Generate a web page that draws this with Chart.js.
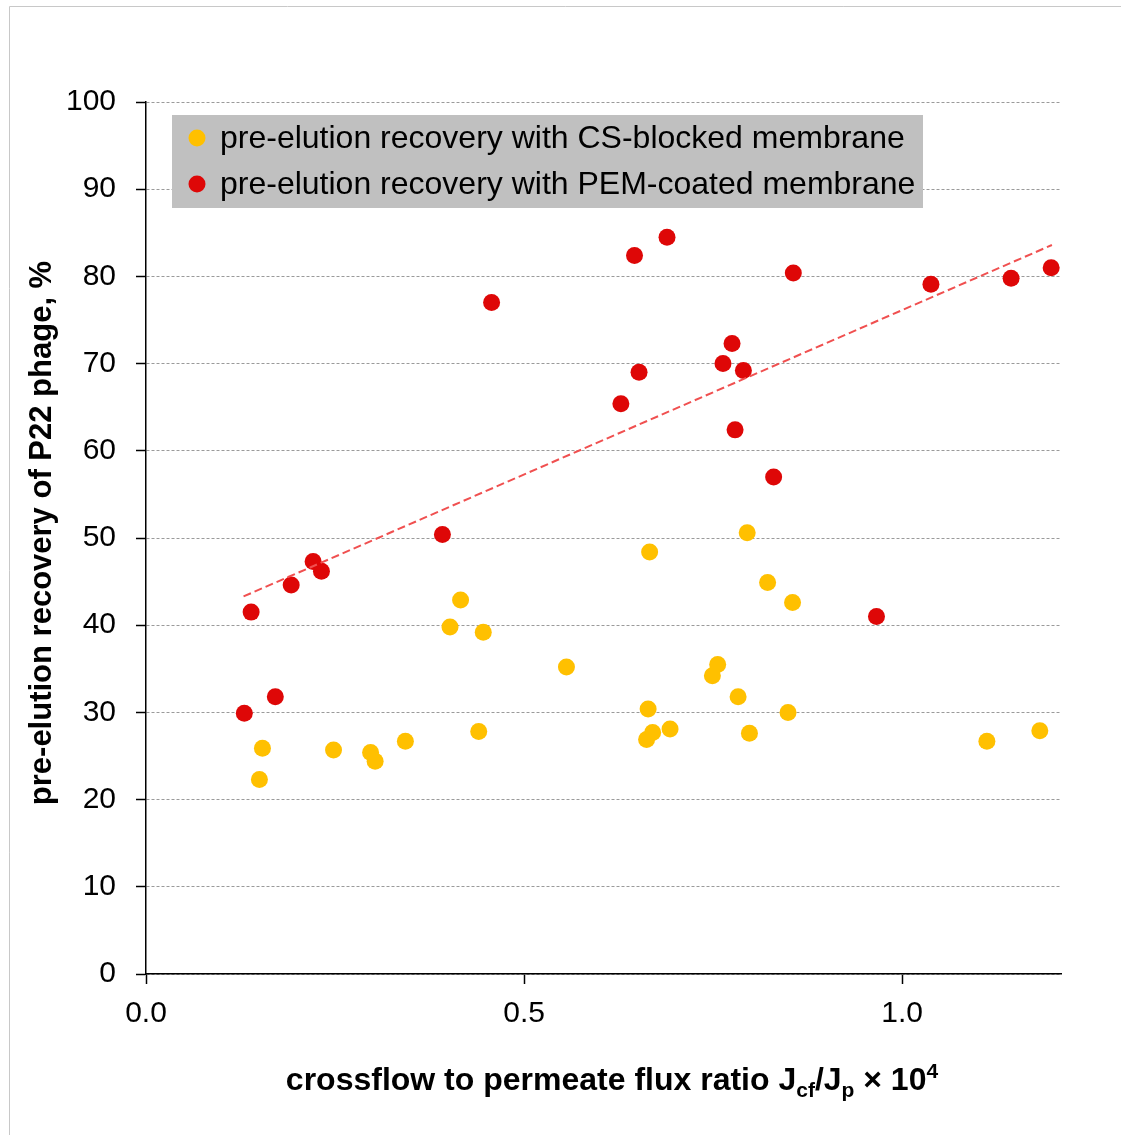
<!DOCTYPE html>
<html>
<head>
<meta charset="utf-8">
<title>Pre-elution recovery of P22 phage</title>
<script src="https://cdn.jsdelivr.net/npm/chart.js@4/dist/chart.umd.min.js"></script>
<style>
  html, body { margin: 0; padding: 0; background: #ffffff; }
  #wrap { position: relative; width: 1121px; height: 1135px; }
</style>
</head>
<body>
<div id="wrap"><canvas id="chart" width="1121" height="1135"></canvas></div>
<script>
// Crossflow to permeate flux ratio (x 10^4) and pre-elution recovery (%)
const csX  = [0.150, 0.154, 0.248, 0.297, 0.303, 0.343, 0.402, 0.416, 0.440, 0.446,
              0.556, 0.662, 0.664, 0.666, 0.670, 0.693, 0.749, 0.756, 0.783, 0.795,
              0.798, 0.822, 0.849, 0.855, 1.112, 1.182];
const csY  = [22.3, 25.9, 25.7, 25.4, 24.4, 26.7, 39.8, 42.9, 27.8, 39.2,
              35.2, 26.9, 30.4, 48.4, 27.7, 28.1, 34.2, 35.5, 31.8, 50.6,
              27.6, 44.9, 30.0, 42.6, 26.7, 27.9];

const pemX = [0.130, 0.139, 0.171, 0.192, 0.221, 0.232, 0.392, 0.457, 0.628, 0.646,
              0.652, 0.689, 0.763, 0.775, 0.779, 0.790, 0.830, 0.856, 0.966, 1.038,
              1.144, 1.197];
const pemY = [29.9, 41.5, 31.8, 44.6, 47.3, 46.2, 50.4, 77.0, 65.4, 82.4,
              69.0, 84.5, 70.0, 72.3, 62.4, 69.2, 57.0, 80.4, 41.0, 79.1,
              79.8, 81.0];

// Linear trend of the PEM-coated series
const trendX = [0.129, 1.198];
const trendY = [43.3, 83.6];

const seriesLabels = [
  'pre-elution recovery with CS-blocked membrane',
  'pre-elution recovery with PEM-coated membrane'
];
const yTitle = 'pre-elution recovery of P22 phage, %';
// x title pieces: normal text, subscripts and the exponent
const xTitleParts = ['crossflow to permeate flux ratio J', 'cf', '/J', 'p', ' \u00d7 10', '4'];
const xTitleKinds = ['n', 'sub', 'n', 'sub', 'n', 'sup'];

const xMin = 0, xMax = 1.21, xStep = 0.5;
const yMin = 0, yMax = 100, yStep = 10;

const FONT = '"Liberation Sans", Arial, sans-serif';
const YELLOW = '#FFC000';
const RED = '#DE0707';

const toPts = (xs, ys) => xs.map((x, i) => ({ x: x, y: ys[i] }));

const decorations = {
  id: 'decorations',
  beforeDraw(chart) {
    const ctx = chart.ctx;
    ctx.save();
    ctx.fillStyle = '#ffffff';
    ctx.fillRect(0, 0, chart.width, chart.height);
    ctx.strokeStyle = '#c8c8c8';
    ctx.lineWidth = 1;
    ctx.beginPath();
    ctx.moveTo(9.5, chart.height);
    ctx.lineTo(9.5, 6.5);
    ctx.lineTo(chart.width, 6.5);
    ctx.stroke();
    ctx.restore();
  },
  afterDraw(chart) {
    const ctx = chart.ctx;
    ctx.save();
    ctx.fillStyle = '#000000';

    // y-axis title
    ctx.font = 'bold 31px ' + FONT;
    ctx.textAlign = 'center';
    ctx.textBaseline = 'alphabetic';
    ctx.translate(51, 533);
    ctx.rotate(-Math.PI / 2);
    ctx.fillText(yTitle, 0, 0);
    ctx.setTransform(1, 0, 0, 1, 0, 0);

    // x-axis title with subscripts and superscript
    const runs = xTitleParts.map((t, i) => {
      const kind = xTitleKinds[i];
      const size = kind === 'n' ? 32 : 21;
      const dy = kind === 'sub' ? 7 : (kind === 'sup' ? -12 : 0);
      ctx.font = 'bold ' + size + 'px ' + FONT;
      return { text: t, size: size, dy: dy, w: ctx.measureText(t).width };
    });
    const total = runs.reduce((s, r) => s + r.w, 0);
    let x = 612 - total / 2;
    ctx.textAlign = 'left';
    runs.forEach(r => {
      ctx.font = 'bold ' + r.size + 'px ' + FONT;
      ctx.fillText(r.text, x, 1090 + r.dy);
      x += r.w;
    });

    // legend box inside the plot
    ctx.fillStyle = '#c0c0c0';
    ctx.fillRect(172, 115, 751, 93);
    const rows = [138, 184];
    chart.data.datasets.slice(0, 2).forEach((ds, i) => {
      ctx.fillStyle = ds.backgroundColor;
      ctx.beginPath();
      ctx.arc(197, rows[i], 8.5, 0, Math.PI * 2);
      ctx.fill();
      ctx.fillStyle = '#000000';
      ctx.font = '32px ' + FONT;
      ctx.textBaseline = 'middle';
      ctx.fillText(ds.label, 220, rows[i] + 1);
    });
    ctx.restore();
  }
};

new Chart(document.getElementById('chart'), {
  type: 'scatter',
  data: {
    datasets: [
      {
        label: seriesLabels[0],
        data: toPts(csX, csY),
        backgroundColor: YELLOW,
        borderWidth: 0,
        pointRadius: 8.5,
        pointHoverRadius: 8.5
      },
      {
        label: seriesLabels[1],
        data: toPts(pemX, pemY),
        backgroundColor: RED,
        borderWidth: 0,
        pointRadius: 8.5,
        pointHoverRadius: 8.5
      },
      {
        type: 'line',
        label: 'trend',
        data: toPts(trendX, trendY),
        borderColor: '#F05050',
        borderWidth: 2,
        borderDash: [8, 4],
        pointRadius: 0,
        fill: false,
        order: -1
      }
    ]
  },
  options: {
    responsive: false,
    animation: false,
    devicePixelRatio: 1,
    layout: { padding: { left: 0, top: 102, right: 60, bottom: 0 } },
    plugins: {
      legend: { display: false },
      tooltip: { enabled: false },
      title: { display: false }
    },
    scales: {
      x: {
        type: 'linear',
        min: xMin,
        max: xMax,
        afterFit: s => { s.height = 161; },
        ticks: {
          stepSize: xStep,
          includeBounds: false,
          color: '#000000',
          padding: 12,
          font: { family: FONT, size: 30 },
          callback: v => Number(v).toFixed(1)
        },
        grid: {
          drawOnChartArea: false,
          drawTicks: true,
          tickLength: 10,
          tickColor: '#000000',
          tickWidth: 1.5
        },
        border: { color: '#000000', width: 1.5 }
      },
      y: {
        type: 'linear',
        min: yMin,
        max: yMax,
        afterFit: s => { s.width = 146; },
        ticks: {
          stepSize: yStep,
          color: '#000000',
          padding: 20,
          font: { family: FONT, size: 30 }
        },
        grid: {
          color: '#9a9a9a',
          lineWidth: 1,
          drawTicks: true,
          tickLength: 10,
          tickColor: '#000000',
          tickWidth: 1.5
        },
        border: { color: '#000000', width: 1.5, dash: [3, 2] }
      }
    }
  },
  plugins: [decorations]
});
</script>
</body>
</html>
